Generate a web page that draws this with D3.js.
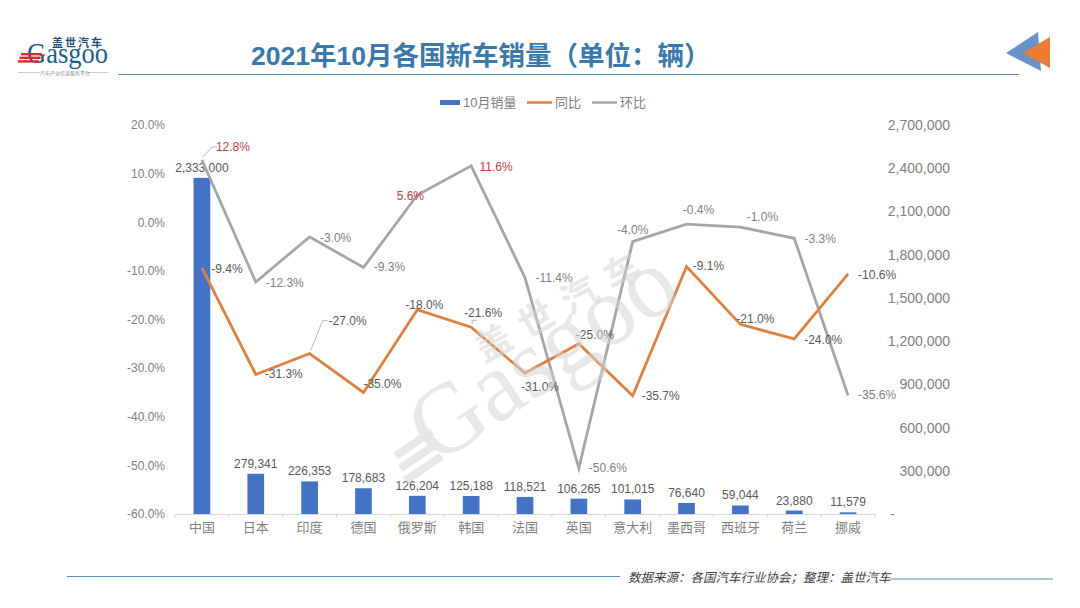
<!DOCTYPE html>
<html>
    <head>
        <title>2021年10月各国新车销量</title>
        <meta charset="utf-8" />
        <script src="https://d3js.org/d3.v7.min.js"></script>
        <style>
            html, body {
                margin: 0;
                padding: 0;
                background-color: white;
            }
            svg {
                display: block;
            }
            text {
                font-family: 'Liberation Sans', 'Noto Sans CJK SC', sans-serif;
            }
            .axis-x .domain, .axis-x line {
                stroke: #d9d9d9;
            }
        </style>
    </head>
    <body>
        <svg></svg>
        <script>
            const categories = ['中国', '日本', '印度', '德国', '俄罗斯', '韩国', '法国', '英国', '意大利', '墨西哥', '西班牙', '荷兰', '挪威']
            const sales = [2333000, 279341, 226353, 178683, 126204, 125188, 118521, 106265, 101015, 76640, 59044, 23880, 11579]
            const yoy = [-9.4, -31.3, -27.0, -35.0, -18.0, -21.6, -31.0, -25.0, -35.7, -9.1, -21.0, -24.0, -10.6]
            const mom = [12.8, -12.3, -3.0, -9.3, 5.6, 11.6, -11.4, -50.6, -4.0, -0.4, -1.0, -3.3, -35.6]
            const leftTicks = [20, 10, 0, -10, -20, -30, -40, -50, -60]
            const rightTicks = [0, 300000, 600000, 900000, 1200000, 1500000, 1800000, 2100000, 2400000, 2700000]

            // label nudges [dx, dy]
            const yoyOffsets = [[25, 1], [28, 0], [38, -33], [19, -8], [7, -5], [12, -14], [15, 14], [16, -9], [28, 0], [22, 0], [15, -5], [29, 1], [29, 1]]
            const momOffsets = [[31, -13], [29, 1], [26, 1], [26, 0], [-7, 1], [25, 1], [29, 0], [29, 0], [0, -12], [12, -14], [22, -10], [26, 1], [29, 0]]

            const width = 1080
            const height = 608
            const plotTop = 125
            const plotBottom = 514
            const plotLeft = 175
            const plotRight = 875

            const svg = d3.select('svg')
                .attr('width', width)
                .attr('height', height)
                .attr('viewBox', [0, 0, width, height])

            const xScale = d3.scaleBand().domain(categories).range([plotLeft, plotRight]).paddingInner(0.69).paddingOuter(0.345)
            const yPct = d3.scaleLinear().domain([-60, 20]).range([plotBottom, plotTop])
            const ySales = d3.scaleLinear().domain([0, 2700000]).range([plotBottom, plotTop])
            const cx = (c) => xScale(c) + xScale.bandwidth() / 2

            // header
            svg.append('text')
                .attr('x', 251).attr('y', 65)
                .style('font-size', '26.5px').style('font-weight', 'bold').style('fill', '#3b78a9')
                .text('2021年10月各国新车销量（单位：辆）')
            svg.append('line').attr('x1', 118).attr('x2', 1019).attr('y1', 74.5).attr('y2', 74.5)
                .style('stroke', '#5b8db0').style('stroke-width', 1.2)
            svg.append('polygon').attr('points', '1006,53 1038,32 1041,71').style('fill', '#6a94c8')
            svg.append('polygon').attr('points', '1023,53 1050,37 1050,68').style('fill', '#ed7d31')

            // logo
            const logo = svg.append('g')
            logo.append('text').attr('x', 52).attr('y', 47)
                .style('font-size', '11px').style('font-weight', 'bold').style('letter-spacing', '2px').style('fill', '#1f4e79')
                .text('盖世汽车')
            logo.append('text').attr('x', 27).attr('y', 63)
                .style('font-family', "'Liberation Serif', serif").style('font-size', '29px').style('fill', '#1f5c8c')
                .attr('textLength', 81).attr('lengthAdjust', 'spacingAndGlyphs')
                .text('Gasgoo')
            ;[0, 1, 2].forEach((i) => {
                logo.append('rect').attr('x', 18 + (2 - i) * 1.5).attr('y', 53 + i * 3.6).attr('width', 21).attr('height', 2.4)
                    .style('fill', '#c8322d')
            })
            logo.append('line').attr('x1', 18).attr('x2', 40).attr('y1', 72.5).attr('y2', 72.5).style('stroke', '#ccc')
            logo.append('line').attr('x1', 88).attr('x2', 108).attr('y1', 72.5).attr('y2', 72.5).style('stroke', '#ccc')
            logo.append('text').attr('x', 65).attr('y', 75).attr('text-anchor', 'middle')
                .style('font-size', '5px').style('fill', '#888')
                .text('汽车产业信息服务平台')

            // legend
            const legend = svg.append('g').style('font-size', '13px').style('fill', '#7f7f7f')
            legend.append('rect').attr('x', 440).attr('y', 100).attr('width', 20).attr('height', 5).style('fill', '#4472c4')
            legend.append('text').attr('x', 463).attr('y', 107).text('10月销量')
            legend.append('line').attr('x1', 527).attr('x2', 552).attr('y1', 102.5).attr('y2', 102.5).style('stroke', '#ed7d31').style('stroke-width', 2.5)
            legend.append('text').attr('x', 555).attr('y', 107).text('同比')
            legend.append('line').attr('x1', 592).attr('x2', 617).attr('y1', 102.5).attr('y2', 102.5).style('stroke', '#a5a5a5').style('stroke-width', 2.5)
            legend.append('text').attr('x', 620).attr('y', 107).text('环比')

            // axes
            const axisLeft = svg.append('g')
                .attr('transform', `translate(${plotLeft},0)`)
                .call(d3.axisLeft(yPct).tickValues(leftTicks).tickSize(0).tickPadding(10).tickFormat((d) => d.toFixed(1) + '%'))
            axisLeft.select('.domain').remove()
            axisLeft.selectAll('text').style('font-size', '12px').style('fill', '#808080')
            axisLeft.attr('font-family', null)

            const axisRight = svg.append('g')
                .attr('transform', `translate(${plotRight},0)`)
                .call(d3.axisRight(ySales).tickValues(rightTicks).tickSize(0).tickPadding(14).tickFormat((d) => d === 0 ? '-' : d3.format(',')(d)))
            axisRight.select('.domain').remove()
            axisRight.selectAll('text')
                .attr('text-anchor', (d) => d === 0 ? 'start' : 'end')
                .attr('x', (d) => d === 0 ? 15 : 75)
                .style('font-size', '14px').style('fill', '#7f7f7f')
            axisRight.attr('font-family', null)

            const axisX = svg.append('g')
                .attr('class', 'axis-x')
                .attr('transform', `translate(0,${plotBottom})`)
                .call(d3.axisBottom(xScale).tickSize(0).tickPadding(9))
            axisX.selectAll('text').style('font-size', '13px').style('fill', '#7f7f7f')
            axisX.attr('font-family', null)
            axisX.selectAll('.edge')
                .data(d3.range(categories.length + 1))
                .enter()
                .append('line')
                .attr('class', 'edge')
                .attr('x1', (i) => plotLeft + ((plotRight - plotLeft) / categories.length) * i)
                .attr('x2', (i) => plotLeft + ((plotRight - plotLeft) / categories.length) * i)
                .attr('y1', 0)
                .attr('y2', 4)

            // bars
            svg.append('g').selectAll('rect')
                .data(sales)
                .enter()
                .append('rect')
                .attr('x', (d, i) => xScale(categories[i]))
                .attr('y', (d) => ySales(d))
                .attr('width', xScale.bandwidth())
                .attr('height', (d) => plotBottom - ySales(d))
                .style('fill', '#4472c4')

            svg.append('g').selectAll('text')
                .data(sales)
                .enter()
                .append('text')
                .attr('x', (d, i) => cx(categories[i]))
                .attr('y', (d) => ySales(d) - 6)
                .attr('text-anchor', 'middle')
                .style('font-size', '12px').style('fill', '#595959')
                .text((d) => d3.format(',')(d))

            // lines
            const line = d3.line().x((d, i) => cx(categories[i])).y((d) => yPct(d))
            svg.append('path').attr('d', line(mom)).style('fill', 'none').style('stroke', '#a5a5a5').style('stroke-width', 2.8)
            svg.append('path').attr('d', line(yoy)).style('fill', 'none').style('stroke', '#dd8142').style('stroke-width', 2.8)

            // leader lines
            const leader = (i, values, offsets, gap) => {
                const px = cx(categories[i])
                const py = yPct(values[i])
                const lx = px + offsets[i][0] + gap[0]
                const ly = py + offsets[i][1] + gap[1]
                svg.append('polyline')
                    .attr('points', [[px + 1, py - 3], [lx - 5, ly], [lx, ly]].map((p) => p.join(',')).join(' '))
                    .style('fill', 'none').style('stroke', '#a6a6a6').style('stroke-width', 0.8)
            }
            leader(0, mom, momOffsets, [-16, 0])
            leader(2, yoy, yoyOffsets, [-20, 0])
            leader(5, yoy, yoyOffsets, [-6, 7])

            // data labels
            const drawLabels = (values, offsets, color) => {
                svg.append('g').selectAll('text')
                    .data(values)
                    .enter()
                    .append('text')
                    .attr('x', (d, i) => cx(categories[i]) + offsets[i][0])
                    .attr('y', (d, i) => yPct(d) + offsets[i][1] + 4)
                    .attr('text-anchor', 'middle')
                    .style('font-size', '12px')
                    .style('fill', (d) => d > 0 ? '#c0404a' : color)
                    .text((d) => d.toFixed(1) + '%')
            }
            drawLabels(mom, momOffsets, '#7f7f7f')
            drawLabels(yoy, yoyOffsets, '#595959')

            // watermark
            const mark = svg.append('g').attr('transform', 'translate(436,466) rotate(-34)')
                .style('fill', '#d4d4d4').style('opacity', 0.55)
            mark.append('text')
                .style('font-family', "'Liberation Serif', serif").style('font-size', '100px')
                .attr('textLength', 300).attr('lengthAdjust', 'spacingAndGlyphs')
                .text('Gasgoo')
            ;[0, 1, 2].forEach((i) => {
                mark.append('rect').attr('x', -34 + i * 3).attr('y', -9 - i * 13).attr('width', 44).attr('height', 8)
            })
            svg.append('text')
                .attr('transform', 'translate(484,363) rotate(-29)')
                .style('font-size', '36px').style('font-weight', 'bold').style('letter-spacing', '13px')
                .style('fill', '#d4d4d4').style('opacity', 0.55)
                .text('盖世汽车')

            // footer
            svg.append('line').attr('x1', 67).attr('x2', 620).attr('y1', 576.5).attr('y2', 576.5)
                .style('stroke', '#5b8db0').style('stroke-width', 1.2)
            svg.append('line').attr('x1', 890).attr('x2', 1053).attr('y1', 579).attr('y2', 579)
                .style('stroke', '#5b8db0').style('stroke-width', 1.2)
            svg.append('text').attr('x', 628).attr('y', 582)
                .style('font-size', '12.5px').style('font-style', 'italic').style('fill', '#404040')
                .text('数据来源：各国汽车行业协会；整理：盖世汽车')
        </script>
    </body>
</html>
